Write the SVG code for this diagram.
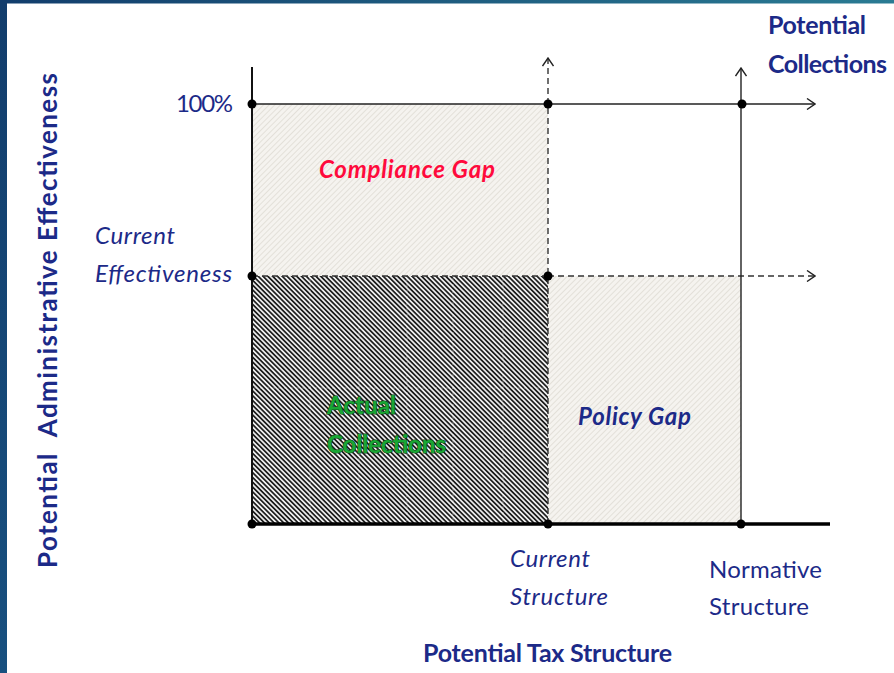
<svg xmlns="http://www.w3.org/2000/svg" width="894" height="673" viewBox="0 0 894 673">
  <style>
    .lbl { font-family: Lato, "Open Sans", "Liberation Sans", sans-serif; font-size: 24px; fill: #1c2a88; }
    .it { font-style: italic; }
    .b { font-weight: bold; }
    .big { font-size: 25px; }
    .green { fill: #19a634; stroke: #0c3a14; stroke-width: 1.2; paint-order: stroke; }
    .axis { stroke: #111; stroke-width: 2; fill: none; }
    .dash { stroke: #333; stroke-width: 1.4; stroke-dasharray: 6 4; fill: none; }
    .arrow { stroke: #222; stroke-width: 1.4; fill: none; }
    .dot { fill: #000; }
  </style>
  <defs>
    <linearGradient id="topBar" x1="0" y1="0" x2="1" y2="0">
      <stop offset="0" stop-color="#123d6c"/>
      <stop offset="1" stop-color="#2a7b93"/>
    </linearGradient>
    <linearGradient id="sideBar" x1="0" y1="0" x2="0" y2="1">
      <stop offset="0" stop-color="#123d6c"/>
      <stop offset="1" stop-color="#18507f"/>
    </linearGradient>
    <pattern id="lightHatch" width="4" height="4" patternUnits="userSpaceOnUse" patternTransform="rotate(45)">
      <rect width="4" height="4" fill="#f5f3ef"/>
      <rect width="1" height="4" fill="#e3e0d9"/>
    </pattern>
    <pattern id="darkHatch" width="3.4" height="4" patternUnits="userSpaceOnUse" patternTransform="rotate(-45)">
      <rect width="3.4" height="4" fill="#ececec"/>
      <rect width="1.7" height="4" fill="#1e1e1e"/>
    </pattern>
    <marker id="open" viewBox="0 0 10 12" refX="9" refY="6" markerWidth="10" markerHeight="12" markerUnits="userSpaceOnUse" orient="auto">
      <path d="M1,0.5 L9,6 L1,11.5" fill="none" stroke="#222" stroke-width="1.4"/>
    </marker>
  </defs>

  <!-- frame -->
  <rect width="894" height="673" fill="#ffffff"/>
  <rect x="0" y="0" width="894" height="3.5" fill="url(#topBar)"/>
  <rect x="0" y="0" width="7" height="673" fill="url(#sideBar)"/>

  <!-- shaded regions -->
  <g id="compliance-gap">
    <rect x="252" y="104" width="296" height="172" fill="url(#lightHatch)"/>
    <text class="lbl it b" x="319" y="178" style="fill:#ff0a3c" textLength="176">Compliance Gap</text>
  </g>
  <g id="actual-collections">
    <rect x="252" y="276" width="296" height="248" fill="url(#darkHatch)"/>
    <g stroke="#ffffff" stroke-opacity="0.35" stroke-width="1.2" stroke-dasharray="3 3">
      <line x1="310" y1="278" x2="310" y2="522"/>
      <line x1="359" y1="278" x2="359" y2="522"/>
      <line x1="407" y1="278" x2="407" y2="522"/>
      <line x1="453" y1="278" x2="453" y2="522"/>
      <line x1="503" y1="278" x2="503" y2="522"/>
      <line x1="254" y1="388" x2="546" y2="388"/>
    </g>
    <text class="lbl b green" x="327" y="414" textLength="69">Actual</text>
    <text class="lbl b green" x="327" y="453" textLength="119">Collections</text>
  </g>
  <g id="policy-gap">
    <rect x="548" y="276" width="193" height="248" fill="url(#lightHatch)"/>
    <text class="lbl it b" x="578" y="425" textLength="113">Policy Gap</text>
  </g>

  <!-- connectors -->
  <g id="connectors">
    <line class="axis" x1="252" y1="67" x2="252" y2="524"/>
    <line class="axis" x1="252" y1="276" x2="252" y2="524" stroke-width="3"/>
    <line class="arrow" x1="252" y1="104" x2="815" y2="104" marker-end="url(#open)"/>
    <line class="dash" x1="252" y1="276" x2="548" y2="276"/>
    <line class="dash" x1="548" y1="276" x2="815" y2="276" marker-end="url(#open)"/>
    <line class="dash" x1="548" y1="524" x2="548" y2="58" stroke="#777" marker-end="url(#open)"/>
    <line class="arrow" x1="741" y1="524" x2="741" y2="68" stroke="#333" marker-end="url(#open)"/>
    <line x1="248" y1="524" x2="830" y2="524" stroke="#000" stroke-width="3.5"/>
  </g>

  <!-- points -->
  <g id="points">
    <circle class="dot" cx="252" cy="104" r="4.5"/>
    <circle class="dot" cx="548" cy="104" r="4.5"/>
    <circle class="dot" cx="742" cy="104" r="4.5"/>
    <circle class="dot" cx="252" cy="276" r="4.5"/>
    <circle class="dot" cx="548" cy="276" r="4.5"/>
    <circle class="dot" cx="252" cy="524" r="4.5"/>
    <circle class="dot" cx="548" cy="524" r="4.5"/>
    <circle class="dot" cx="741" cy="524" r="4.5"/>
  </g>

  <!-- axis labels -->
  <g id="y-ticks">
    <text class="lbl" x="176" y="112" textLength="57">100%</text>
    <text class="lbl it" x="95" y="244" textLength="80">Current</text>
    <text class="lbl it" x="95" y="282" textLength="137">Effectiveness</text>
  </g>
  <g id="x-ticks">
    <text class="lbl it" x="510" y="567" textLength="80">Current</text>
    <text class="lbl it" x="510" y="605" textLength="98">Structure</text>
    <text class="lbl" x="709" y="578" textLength="113">Normative</text>
    <text class="lbl" x="709" y="615" textLength="100">Structure</text>
  </g>
  <g id="x-title">
    <text class="lbl b big" x="423" y="662" textLength="249">Potential Tax Structure</text>
  </g>
  <g id="y-title">
    <text class="lbl b" style="font-size:26px" transform="translate(57,568) rotate(-90)" x="0" y="0" textLength="495" xml:space="preserve">Potential  Administrative Effectiveness</text>
  </g>
  <g id="collections-title">
    <text class="lbl b big" x="768" y="34" textLength="98">Potential</text>
    <text class="lbl b big" x="768" y="73" textLength="119">Collections</text>
  </g>
</svg>
